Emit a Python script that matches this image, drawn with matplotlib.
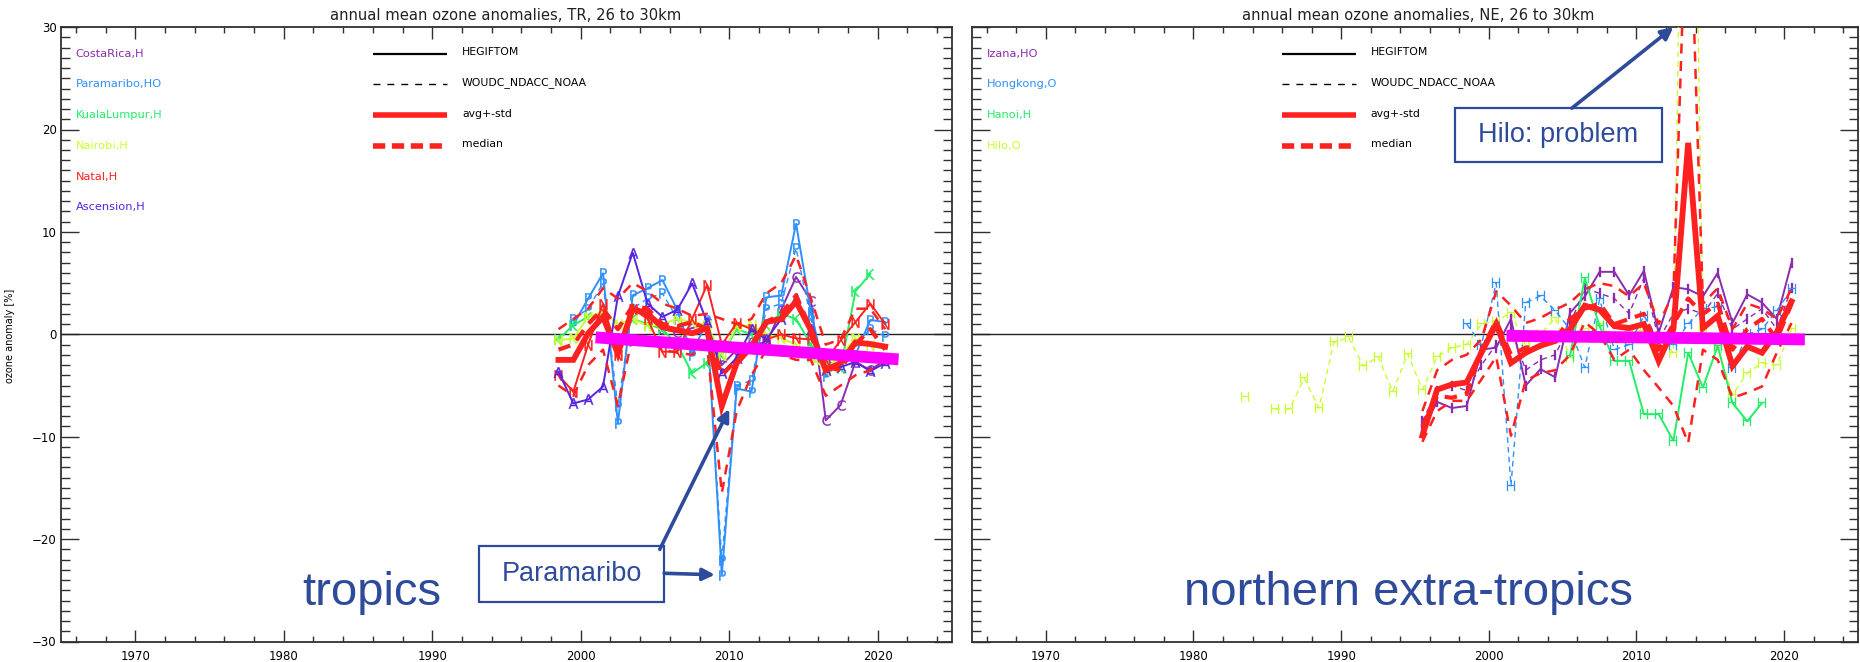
import numpy as np
import matplotlib
matplotlib.use("Agg")
import matplotlib.pyplot as plt
from matplotlib.patches import Rectangle

nan = np.nan

# ---------------- data : tropics (years 1998..2020) ----------------
tr_years = list(range(1998, 2021))
tr_avg = [-2.5, -2.5, 0.1, 1.7, -1.9, 2.5, 2.0, 0.7, 0.4, 0.1, 0.6, -7.0, -2.8,
          -1.2, 1.2, 1.5, 3.2, 0.4, -3.5, -2.8, -0.8, -0.95, -1.2]
tr_up = [0.5, 1.5, 2.5, 4.5, 3.5, 5.0, 4.2, 3.0, 2.5, 1.8, 2.0, 1.5, 1.0,
         1.5, 4.0, 5.0, 7.7, 3.5, -1.0, -0.5, 2.5, 2.5, 0.5]
tr_lo = [-5.0, -6.0, -3.0, -1.5, -7.0, 0.0, -0.5, -1.5, -1.8, -2.0, -1.0, -15.5, -7.5,
         -4.0, -1.5, -2.0, -2.5, -2.5, -6.0, -5.0, -4.0, -3.5, -2.5]
tr_med = [-1.5, -1.0, 1.0, 2.5, 0.5, 2.8, 2.5, 1.0, 0.8, 1.2, 0.5, -4.0, -2.5,
          -1.0, 1.2, 2.0, 3.8, 0.5, -3.2, -3.5, -1.0, 0.5, -1.5]

costarica_h = [nan, nan, nan, nan, nan, nan, nan, 0.5, 0.2, 0.6, 1.1, -3.0, -1.5,
               -0.8, -0.9, 2.4, 5.6, 3.3, -8.4, -6.9, -2.7, -3.5, -2.5]
paramaribo_h = [nan, 0.9, 3.5, 5.95, -8.7, 3.8, 4.5, 5.3, 2.4, -2.0, 1.4, -23.5, -5.3,
                -5.6, 3.6, 3.8, 10.8, 2.2, -4.1, -2.5, -2.0, 1.4, 1.2]
paramaribo_o = [nan, 1.5, 2.5, 5.0, -7.0, 2.5, 3.5, 4.0, 1.5, -1.5, 1.0, -22.0, -5.0,
                -4.5, 2.5, 3.0, 8.4, 1.5, -3.5, -2.0, -1.0, 0.5, -0.2]
kualalumpur_h = [-0.5, 0.9, 1.7, 2.0, -1.0, 1.5, 1.0, 0.5, -1.0, -3.8, -2.8, -2.0, 0.5,
                 0.0, 1.0, 2.0, 1.5, -1.0, -2.5, -3.3, 4.2, 5.9, nan]
nairobi_h = [-0.6, -0.4, 1.7, 2.2, 1.0, 1.5, 0.8, 1.0, 1.5, 1.2, 0.9, -2.0, 0.8,
             0.9, 0.0, -0.4, -1.0, -2.2, -3.5, -2.0, -0.4, -1.0, nan]
natal_h = [-4.0, -5.6, -1.0, 3.0, -2.0, 2.5, 1.5, -1.7, -1.7, 1.5, 4.8, -1.0, 1.1,
           0.5, -0.5, 0.0, -0.4, -0.5, -2.5, -0.6, 1.2, 3.0, 1.0]
ascension_h = [-3.65, -6.75, -6.36, -5.1, 3.7, 7.97, 3.0, 1.7, 2.4, 4.97, 1.2, -3.8, -2.3,
               0.5, -0.5, 1.5, 3.5, 0.5, -3.5, -3.2, -2.7, -3.6, -2.8]

# ---------------- data : northern extra-tropics (years 1995..2020) ----------------
ne_years = list(range(1995, 2021))
ne_avg = [-9.9, -5.4, -4.9, -4.7, -1.8, 1.0, -2.8, -1.8, -1.1, -0.65, 0.5, 2.8, 2.4,
          0.8, 0.6, 1.0, -2.6, 0.5, 18.7, 0.6, 1.8, -3.1, -1.2, -1.8, 0.2, 3.2]
ne_up = [-7.5, -3.5, -2.5, -2.0, -0.5, 4.2, 2.8, 1.1, 1.6, 2.4, 3.1, 4.4, 5.0,
         4.7, 3.7, 5.0, 1.0, 4.0, 48.0, 3.0, 4.5, 0.5, 3.0, 2.5, 1.5, 4.5]
ne_lo = [-10.5, -7.5, -6.5, -6.5, -4.4, -2.2, -9.9, -4.5, -3.8, -3.5, -2.0, 1.2, 0.0,
         -2.5, -1.5, -3.5, -5.2, -7.0, -10.6, -1.5, -2.5, -6.2, -5.7, -5.1, -1.8, 1.1]
ne_med = [-9.0, -6.0, -6.2, -5.8, -1.5, 1.3, -2.0, -1.3, -1.2, -0.5, 1.5, 2.5, 3.0,
          1.0, 1.5, 2.0, -1.5, 1.0, 3.5, 2.0, 3.0, -1.5, 0.5, 1.5, -0.5, 3.0]

izana_h = [-9.3, -6.6, -7.2, -7.0, -1.5, -1.3, 1.5, -5.0, -3.4, -4.2, 2.1, 3.7, 6.1,
           6.1, 3.8, 6.2, 0.15, 4.6, 4.4, 3.7, 6.0, 1.1, 3.9, 3.1, 1.5, 7.0]
izana_o = [-8.5, -5.5, -5.0, -5.5, -3.0, -1.0, 0.5, -3.5, -2.5, -2.0, 1.0, 4.5, 4.0,
           3.5, 2.0, 5.5, -0.5, 2.0, 2.5, 2.0, 4.0, 0.5, 1.5, 2.5, 0.5, 4.5]
hongkong_o = [nan, nan, nan, 1.0, -1.0, 5.0, -14.8, 3.1, 3.75, 2.3, 0.5, -3.25, 3.4,
              -1.5, -1.0, 1.8, -0.5, -1.0, 1.0, 2.5, 2.7, -3.3, 0.0, 0.5, 2.3, 4.4]
hanoi_h = [nan, nan, nan, nan, nan, nan, nan, nan, nan, nan, -2.1, 5.5, 0.8,
           -2.6, -2.6, -7.8, -7.8, -10.4, -1.8, -5.2, -1.15, -6.7, -8.5, -6.7, nan, nan]
hilo_years = list(range(1983, 2021))
hilo_o = [-6.1, nan, -7.3, -7.3, -4.3, -7.2, -0.8, -0.3, -3.1, -2.2, -5.6, -1.9, -5.4,
          -2.2, -1.3, -1.0, 1.0, 1.3, 2.1, -1.1, 0.0, 1.6, -2.3, 0.5, 1.0, -0.5, 0.5,
          0.3, -0.5, -1.8, 90.0, 0.5, -1.3, -5.9, -3.8, -2.8, -3.0, 0.5]

# trend lines (start/end year, value)
tr_trend_x = [2001.0, 2021.4]
tr_trend_y = [-0.3, -2.45]
ne_trend_x = [2001.2, 2021.4]
ne_trend_y = [-0.15, -0.5]

tr_labels = ["CostaRica,H", "Paramaribo,HO", "KualaLumpur,H", "Nairobi,H", "Natal,H", "Ascension,H"]
ne_labels = ["Izana,HO", "Hongkong,O", "Hanoi,H", "Hilo,O"]
legend_labels = ["HEGIFTOM", "WOUDC_NDACC_NOAA", "avg+-std", "median"]

# ---------------- style ----------------
C_PURPLE = "#8A2BB0"
C_BLUE = "#2E90FF"
C_GREEN = "#22EE66"
C_YELLOW = "#C8FF30"
C_RED = "#FF2020"
C_ASC = "#5525E0"
NAVY = "#2E4B9B"
MAG = "#FF00FF"

W, H = 1860, 662
fig = plt.figure(figsize=(W / 100, H / 100), dpi=100)
bottom = (H - 641.5) / H
height = 614.4 / H
axL = fig.add_axes([61 / W, bottom, 891 / W, height])
axR = fig.add_axes([972 / W, bottom, 886 / W, height])

def mid(years):
    return np.array(years, dtype=float) + 0.5

def station(ax, years, vals, color, letter, dashed=False):
    ls = (0, (4, 3)) if dashed else "-"
    lw = 1.0 if dashed else 1.4
    ax.plot(mid(years), vals, color=color, lw=lw, ls=ls, zorder=3,
            marker=r"$\mathsf{%s}$" % letter, markersize=7.5,
            markeredgewidth=0.2, clip_on=True)

def red_lines(ax, years, avg, up, lo, med):
    x = mid(years)
    ax.plot(x, up, color=C_RED, lw=1.8, ls=(0, (4, 3)), zorder=4)
    ax.plot(x, lo, color=C_RED, lw=1.8, ls=(0, (4, 3)), zorder=4)
    ax.plot(x, med, color=C_RED, lw=3.0, ls=(0, (3, 2)), zorder=5)
    ax.plot(x, avg, color=C_RED, lw=4.2, zorder=6, solid_joinstyle="miter")

def frame(ax, ylabels=True):
    ax.set_xlim(1965, 2025)
    ax.set_ylim(-30, 30)
    ax.set_xticks(np.arange(1970, 2021, 10))
    ax.set_xticks(np.arange(1966, 2025, 2), minor=True)
    ax.set_yticks(np.arange(-30, 31, 10))
    ax.set_yticks(np.arange(-30, 31, 1), minor=True)
    ax.tick_params(axis="both", which="both", direction="in", top=True, right=True,
                   color="#303030", width=1.0, labelsize=8.5)
    ax.tick_params(axis="y", which="major", length=13, pad=3)
    ax.tick_params(axis="y", which="minor", length=6.5)
    ax.tick_params(axis="x", which="major", length=8.6, pad=6)
    ax.tick_params(axis="x", which="minor", length=4.3)
    ax.set_xticklabels([str(v) for v in range(1970, 2021, 10)])
    if ylabels:
        ax.set_yticklabels([str(v).replace("-", "\u2212") for v in range(-30, 31, 10)])
    else:
        ax.set_yticklabels([])
    for s in ax.spines.values():
        s.set_color("#303030")
        s.set_linewidth(1.3)
    ax.axhline(0, color="#202020", lw=1.0, zorder=2)

def legend(ax, names, colors):
    for i, (nm, c) in enumerate(zip(names, colors)):
        ax.text(1966, 27.4 - 3 * i, nm, color=c, fontsize=8.2, va="center", ha="left",
                family="DejaVu Sans")
    styles = [dict(color="black", lw=1.6, ls="-"),
              dict(color="black", lw=1.0, ls=(0, (5, 5))),
              dict(color=C_RED, lw=4.0, ls="-"),
              dict(color=C_RED, lw=4.0, ls=(0, (2.2, 1.2)))]
    for i, (lab, st) in enumerate(zip(legend_labels, styles)):
        y = 27.4 - 3 * i
        ax.plot([1986, 1991], [y, y], solid_capstyle="butt", dash_capstyle="butt", **st)
        ax.text(1992, y + 0.15, lab, fontsize=7.8, va="center", ha="left")

# ---------------- tropics ----------------
frame(axL, True)
station(axL, tr_years, costarica_h, C_PURPLE, "C")
station(axL, tr_years, paramaribo_o, C_BLUE, "P", dashed=True)
station(axL, tr_years, paramaribo_h, C_BLUE, "P")
station(axL, tr_years, kualalumpur_h, C_GREEN, "K")
station(axL, tr_years, nairobi_h, C_YELLOW, "N")
station(axL, tr_years, natal_h, C_RED, "N")
station(axL, tr_years, ascension_h, C_ASC, "A")
red_lines(axL, tr_years, tr_avg, tr_up, tr_lo, tr_med)
axL.plot(tr_trend_x, tr_trend_y, color=MAG, lw=8.5, solid_capstyle="butt", zorder=8)
legend(axL, tr_labels, [C_PURPLE, C_BLUE, C_GREEN, C_YELLOW, C_RED, C_ASC])
fig.text(506 / W, 1 - 15 / H, "annual mean ozone anomalies, TR, 26 to 30km",
         ha="center", va="center", fontsize=10.6, color="#202020")
fig.text(10 / W, 1 - 336 / H, "ozone anomaly [%]", rotation=90, ha="center",
         va="center", fontsize=7)

# annotation : Paramaribo
axL.add_patch(Rectangle((0.469, 0.064), 0.208, 0.091, transform=axL.transAxes,
                        facecolor="white", edgecolor=NAVY, lw=1.6, zorder=10))
axL.text(0.573, 0.110, "Paramaribo", transform=axL.transAxes, ha="center",
         va="center", fontsize=19.5, color=NAVY, family="Liberation Sans", zorder=11)
pmin_i = int(np.nanargmin(paramaribo_h))
axL.annotate("", xy=(tr_years[pmin_i] + 0.5, paramaribo_h[pmin_i]), xycoords="data",
             xytext=(0.677, 0.111), textcoords="axes fraction",
             arrowprops=dict(arrowstyle="-|>", color=NAVY, lw=2.6, mutation_scale=18,
                             shrinkA=0, shrinkB=5), zorder=11)
axL.annotate("", xy=(2010.0, -7.3), xycoords="data",
             xytext=(0.672, 0.150), textcoords="axes fraction",
             arrowprops=dict(arrowstyle="-|>", color=NAVY, lw=2.6, mutation_scale=18,
                             shrinkA=0, shrinkB=0), zorder=11)
axL.text(0.349, 0.059, "tropics", transform=axL.transAxes, ha="center",
         va="baseline", fontsize=34, color=NAVY, family="Liberation Sans", zorder=11)

# ---------------- northern extra-tropics ----------------
frame(axR, False)
station(axR, hilo_years, hilo_o, C_YELLOW, "H", dashed=True)
station(axR, ne_years, izana_o, C_PURPLE, "I", dashed=True)
station(axR, ne_years, izana_h, C_PURPLE, "I")
station(axR, ne_years, hongkong_o, C_BLUE, "H", dashed=True)
station(axR, ne_years, hanoi_h, C_GREEN, "H")
red_lines(axR, ne_years, ne_avg, ne_up, ne_lo, ne_med)
axR.plot(ne_trend_x, ne_trend_y, color=MAG, lw=8.5, solid_capstyle="butt", zorder=8)
legend(axR, ne_labels, [C_PURPLE, C_BLUE, C_GREEN, C_YELLOW])
fig.text(1418 / W, 1 - 15 / H, "annual mean ozone anomalies, NE, 26 to 30km",
         ha="center", va="center", fontsize=10.6, color="#202020")

axR.add_patch(Rectangle((0.545, 0.780), 0.234, 0.088, transform=axR.transAxes,
                        facecolor="white", edgecolor=NAVY, lw=1.6, zorder=10))
axR.text(0.662, 0.824, "Hilo: problem", transform=axR.transAxes, ha="center",
         va="center", fontsize=19.5, color=NAVY, family="Liberation Sans", zorder=11)
axR.annotate("", xy=(2012.5, 30), xycoords="data",
             xytext=(0.677, 0.868), textcoords="axes fraction",
             arrowprops=dict(arrowstyle="-|>", color=NAVY, lw=2.6, mutation_scale=18,
                             shrinkA=0, shrinkB=0), zorder=11, annotation_clip=False)
axR.text(0.493, 0.059, "northern extra-tropics", transform=axR.transAxes, ha="center",
         va="baseline", fontsize=34, color=NAVY, family="Liberation Sans", zorder=11)

fig.savefig("out.png", dpi=100)
